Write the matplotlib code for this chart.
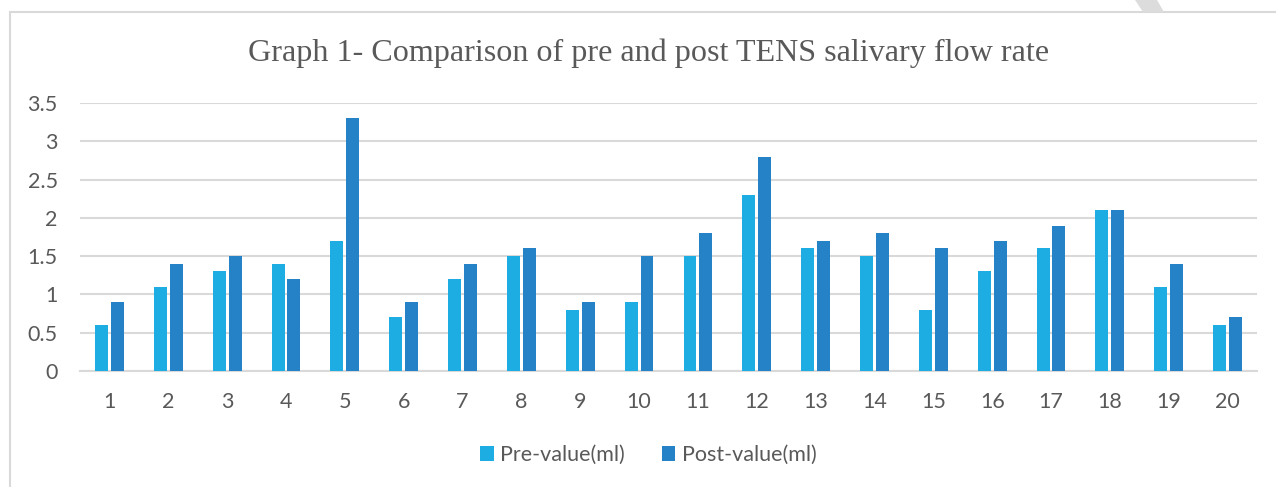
import numpy as np
import matplotlib.pyplot as plt
from matplotlib.patches import Rectangle, Polygon

subjects = [str(i) for i in range(1, 21)]
pre_value = [0.6, 1.1, 1.3, 1.4, 1.7, 0.7, 1.2, 1.5, 0.8, 0.9,
             1.5, 2.3, 1.6, 1.5, 0.8, 1.3, 1.6, 2.1, 1.1, 0.6]
post_value = [0.9, 1.4, 1.5, 1.2, 3.3, 0.9, 1.4, 1.6, 0.9, 1.5,
              1.8, 2.8, 1.7, 1.8, 1.6, 1.7, 1.9, 2.1, 1.4, 0.7]
y_ticks = [0, 0.5, 1, 1.5, 2, 2.5, 3, 3.5]
y_tick_labels = ["0", "0.5", "1", "1.5", "2", "2.5", "3", "3.5"]

PRE_COLOR = "#1DADE3"
POST_COLOR = "#2682C6"
TEXT = "#595959"
GRID = "#D9D9D9"

plt.rcParams["font.family"] = ["Lato", "DejaVu Sans"]

fig = plt.figure(figsize=(12.76, 4.87), dpi=100)
fig.patch.set_facecolor("white")

# outer chart border (runs off the right and bottom of the picture)
fig.patches.append(Rectangle((10 / 1276, -0.05), 1.1, 1 - 12 / 487 + 0.05,
                             transform=fig.transFigure, fill=False,
                             edgecolor=GRID, linewidth=1.5))
# grey stripe at the top edge
fig.patches.append(Polygon([(1135 / 1276, 1.0), (1157 / 1276, 1.0),
                            (1164 / 1276, 1 - 12 / 487), (1143 / 1276, 1 - 12 / 487)],
                           closed=True, transform=fig.transFigure,
                           facecolor="#DCDCDC", edgecolor="none"))

ax = fig.add_axes([80 / 1276, 1 - 371 / 487, (1257 - 80) / 1276, (371 - 103) / 487])
x = np.arange(len(subjects))
w = 0.22
ax.bar(x - w / 2 - 0.025, pre_value, width=w, color=PRE_COLOR, label="Pre-value(ml)", zorder=3)
ax.bar(x + w / 2 + 0.025, post_value, width=w, color=POST_COLOR, label="Post-value(ml)", zorder=3)

ax.set_xlim(-0.5, len(subjects) - 0.5)
ax.set_ylim(0, 3.5)
ax.set_yticks(y_ticks)
ax.set_yticklabels(y_tick_labels)
ax.set_xticks(x)
ax.set_xticklabels(subjects)
ax.tick_params(axis="both", length=0, labelsize=15.5, labelcolor=TEXT)
ax.tick_params(axis="x", pad=15)
ax.tick_params(axis="y", pad=16)
ax.grid(axis="y", color=GRID, linewidth=1.5, zorder=0)
for s in ["top", "right", "left"]:
    ax.spines[s].set_visible(False)
ax.spines["bottom"].set_color(GRID)
ax.spines["bottom"].set_linewidth(1.5)

fig.text(0.508, 1 - 53 / 487, "Graph 1- Comparison of pre and post TENS salivary flow rate",
         ha="center", va="center", fontsize=23.1, color=TEXT, family=["Liberation Serif"])

fig.legend(loc="center", bbox_to_anchor=(0.508, 1 - 455 / 487), ncol=2, frameon=False,
           fontsize=15.5, labelcolor=TEXT, handlelength=0.65, handleheight=0.65,
           handletextpad=0.3, columnspacing=1.7)

fig.savefig("out.png", dpi=100)
